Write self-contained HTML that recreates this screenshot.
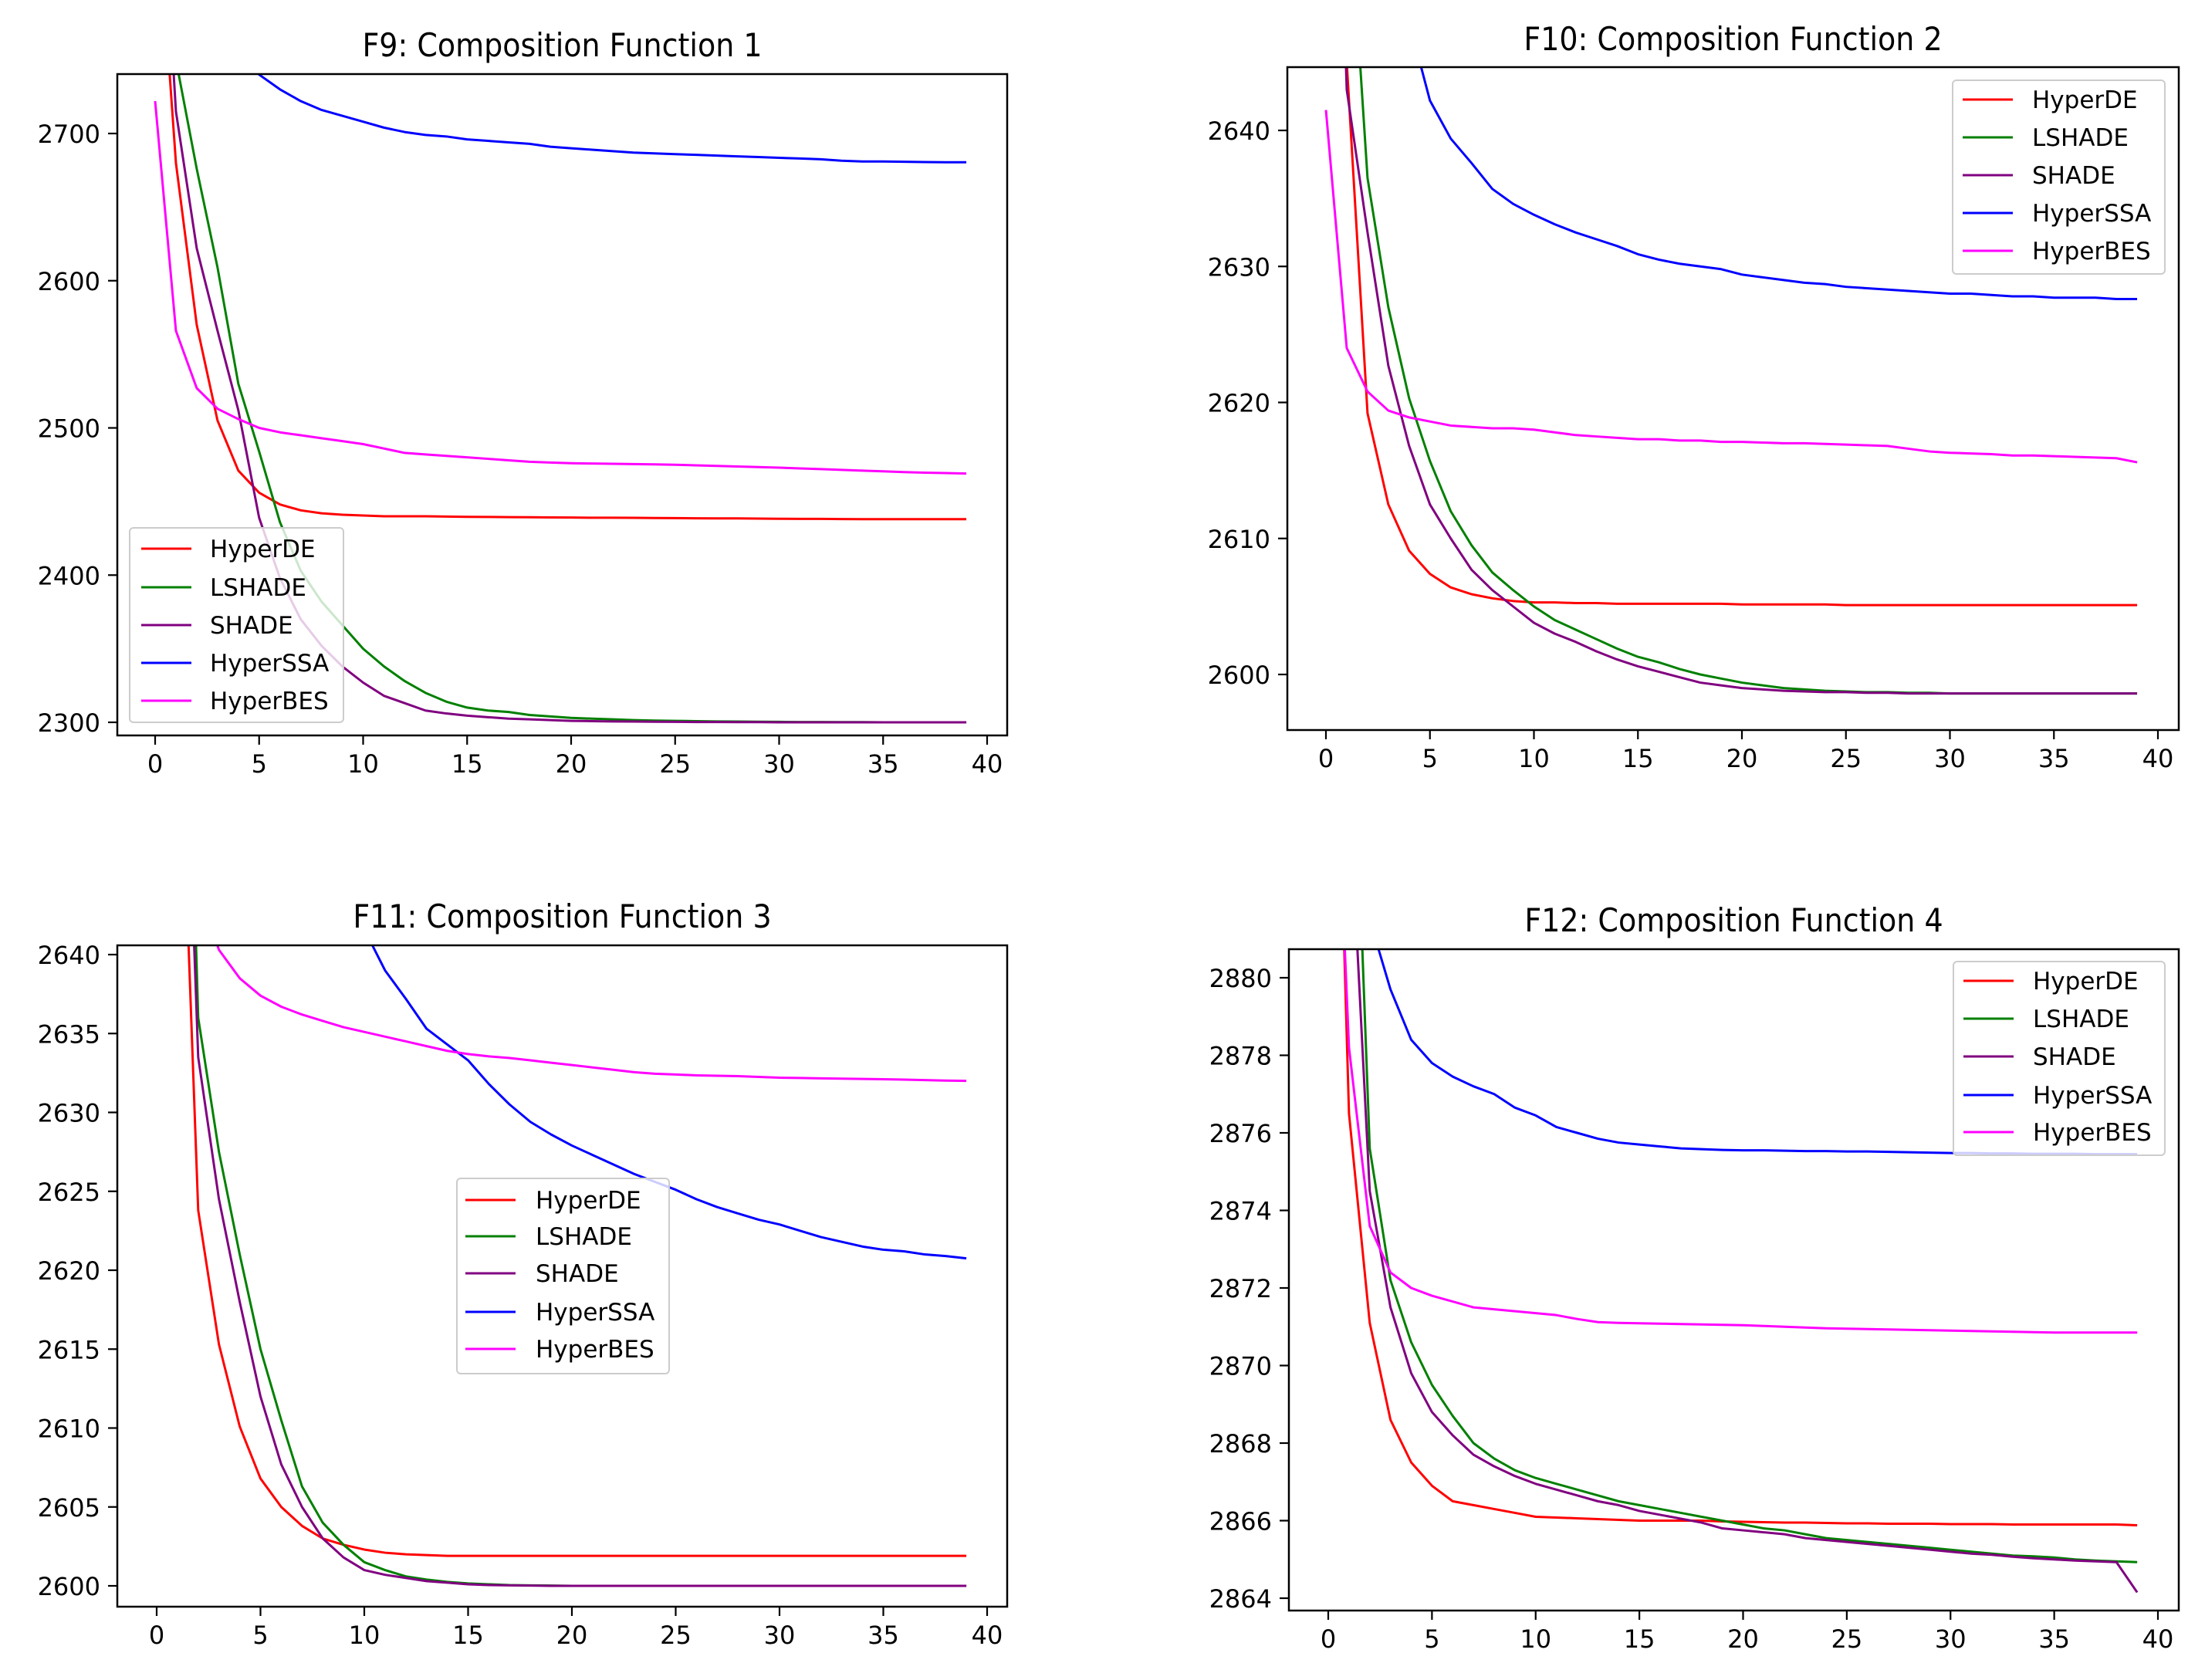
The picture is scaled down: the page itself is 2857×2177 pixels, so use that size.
<!DOCTYPE html>
<html><head><meta charset="utf-8"><style>
html,body{margin:0;padding:0;background:#fff;}
svg text{font-family:"DejaVu Sans","Liberation Sans",sans-serif;fill:#000;}
</style></head>
<body>
<svg id="fig" width="2857" height="2172" viewBox="0 0 2857 2172" xmlns="http://www.w3.org/2000/svg"></svg>
<script>
// ---------- data ----------
const iterations = Array.from({length:40},(_,i)=>i);
const seriesNames = ["HyperDE","LSHADE","SHADE","HyperSSA","HyperBES"];
const seriesColors = ["#ff0000","#008000","#800080","#0000ff","#ff00ff"];
const xTicks = [0,5,10,15,20,25,30,35,40];

// F9
const f9Titles = "F9: Composition Function 1";
const f9YTicks = [2300,2400,2500,2600,2700];
const f9HyperDE = [2880,2680,2570,2505,2471,2456,2448,2444,2442,2441,2440.5,2440,2440,2440,2439.8,2439.6,2439.5,2439.4,2439.3,2439.2,2439.1,2439,2439,2438.9,2438.8,2438.7,2438.6,2438.5,2438.5,2438.4,2438.3,2438.2,2438.2,2438.1,2438,2438,2438,2438,2438,2438];
const f9LSHADE = [3000,2750,2676,2609,2530,2484,2436,2403,2382,2366,2350,2338,2328,2320,2314,2310,2308,2307,2305,2304,2303,2302.5,2302,2301.5,2301.2,2301,2300.8,2300.6,2300.5,2300.4,2300.3,2300.2,2300.2,2300.1,2300.1,2300,2300,2300,2300,2300];
const f9SHADE = [2950,2715,2622,2566,2512,2439,2398,2370,2352,2338,2327,2318,2313,2308,2306,2304.5,2303.5,2302.5,2302,2301.5,2301,2300.8,2300.6,2300.5,2300.4,2300.3,2300.2,2300.2,2300.1,2300.1,2300,2300,2300,2300,2300,2300,2300,2300,2300,2300];
const f9HyperSSA = [2870,2830,2800,2775,2755,2740,2730,2722,2716,2712,2708,2704,2701,2699,2698,2696,2695,2694,2693,2691,2690,2689,2688,2687,2686.5,2686,2685.5,2685,2684.5,2684,2683.5,2683,2682.5,2681.5,2681,2681,2680.8,2680.6,2680.5,2680.5];
const f9HyperBES = [2722,2566,2527,2513,2506,2500,2497,2495,2493,2491,2489,2486,2483,2482,2481,2480,2479,2478,2477,2476.5,2476,2475.8,2475.6,2475.4,2475.2,2475,2474.6,2474.2,2473.8,2473.4,2473,2472.5,2472,2471.5,2471,2470.5,2470,2469.6,2469.3,2469];

// F10
const f10Titles = "F10: Composition Function 2";
const f10YTicks = [2600,2610,2620,2630,2640];
const f10HyperDE = [2680,2645,2619.2,2612.5,2609.1,2607.4,2606.4,2605.9,2605.6,2605.4,2605.3,2605.3,2605.25,2605.25,2605.2,2605.2,2605.2,2605.2,2605.2,2605.2,2605.15,2605.15,2605.15,2605.15,2605.15,2605.1,2605.1,2605.1,2605.1,2605.1,2605.1,2605.1,2605.1,2605.1,2605.1,2605.1,2605.1,2605.1,2605.1,2605.1];
const f10LSHADE = [2700,2660,2636.5,2627,2620.3,2615.7,2612,2609.5,2607.5,2606.2,2605,2604,2603.3,2602.6,2601.9,2601.3,2600.9,2600.4,2600,2599.7,2599.4,2599.2,2599,2598.9,2598.8,2598.75,2598.7,2598.7,2598.65,2598.65,2598.6,2598.6,2598.6,2598.6,2598.6,2598.6,2598.6,2598.6,2598.6,2598.6];
const f10SHADE = [2690,2643,2632.5,2622.7,2616.8,2612.5,2610,2607.7,2606.2,2605,2603.8,2603,2602.4,2601.7,2601.1,2600.6,2600.2,2599.8,2599.4,2599.2,2599,2598.9,2598.8,2598.75,2598.7,2598.7,2598.65,2598.65,2598.6,2598.6,2598.6,2598.6,2598.6,2598.6,2598.6,2598.6,2598.6,2598.6,2598.6,2598.6];
const f10HyperSSA = [2680,2670,2660,2654,2648,2642.2,2639.4,2637.6,2635.7,2634.6,2633.8,2633.1,2632.5,2632,2631.5,2630.9,2630.5,2630.2,2630,2629.8,2629.4,2629.2,2629,2628.8,2628.7,2628.5,2628.4,2628.3,2628.2,2628.1,2628,2628,2627.9,2627.8,2627.8,2627.7,2627.7,2627.7,2627.6,2627.6];
const f10HyperBES = [2641.5,2624,2620.8,2619.4,2618.9,2618.6,2618.3,2618.2,2618.1,2618.1,2618,2617.8,2617.6,2617.5,2617.4,2617.3,2617.3,2617.2,2617.2,2617.1,2617.1,2617.05,2617,2617,2616.95,2616.9,2616.85,2616.8,2616.6,2616.4,2616.3,2616.25,2616.2,2616.1,2616.1,2616.05,2616,2615.95,2615.9,2615.6];

// F11
const f11Titles = "F11: Composition Function 3";
const f11YTicks = [2600,2605,2610,2615,2620,2625,2630,2635,2640];
const f11HyperDE = [2720,2660,2623.8,2615.3,2610.1,2606.8,2605,2603.8,2603,2602.6,2602.3,2602.1,2602,2601.95,2601.9,2601.9,2601.9,2601.9,2601.9,2601.9,2601.9,2601.9,2601.9,2601.9,2601.9,2601.9,2601.9,2601.9,2601.9,2601.9,2601.9,2601.9,2601.9,2601.9,2601.9,2601.9,2601.9,2601.9,2601.9,2601.9];
const f11LSHADE = [2750,2680,2636,2627.5,2621,2615,2610.5,2606.3,2604,2602.6,2601.5,2601,2600.6,2600.4,2600.25,2600.15,2600.1,2600.05,2600.03,2600.02,2600,2600,2600,2600,2600,2600,2600,2600,2600,2600,2600,2600,2600,2600,2600,2600,2600,2600,2600,2600];
const f11SHADE = [2740,2670,2633.5,2624.5,2618,2612,2607.7,2605,2603,2601.8,2601,2600.7,2600.5,2600.3,2600.2,2600.1,2600.05,2600.03,2600.02,2600,2600,2600,2600,2600,2600,2600,2600,2600,2600,2600,2600,2600,2600,2600,2600,2600,2600,2600,2600,2600];
const f11HyperSSA = [2700,2690,2680,2672,2665,2658,2653,2649,2646,2643.5,2641.6,2639,2637.2,2635.3,2634.3,2633.3,2631.8,2630.5,2629.4,2628.6,2627.9,2627.3,2626.7,2626.1,2625.6,2625.1,2624.5,2624,2623.6,2623.2,2622.9,2622.5,2622.1,2621.8,2621.5,2621.3,2621.2,2621,2620.9,2620.75];
const f11HyperBES = [2660,2650,2644,2640.3,2638.5,2637.4,2636.7,2636.2,2635.8,2635.4,2635.1,2634.8,2634.5,2634.2,2633.9,2633.7,2633.55,2633.45,2633.3,2633.15,2633,2632.85,2632.7,2632.55,2632.45,2632.4,2632.35,2632.32,2632.3,2632.25,2632.2,2632.18,2632.16,2632.14,2632.12,2632.1,2632.08,2632.05,2632.02,2632];

// F12
const f12Titles = "F12: Composition Function 4";
const f12YTicks = [2864,2866,2868,2870,2872,2874,2876,2878,2880];
const f12HyperDE = [2895,2876.5,2871.1,2868.6,2867.5,2866.9,2866.5,2866.4,2866.3,2866.2,2866.1,2866.08,2866.06,2866.04,2866.02,2866,2866,2866,2866,2865.98,2865.97,2865.96,2865.95,2865.95,2865.94,2865.93,2865.93,2865.92,2865.92,2865.92,2865.91,2865.91,2865.91,2865.9,2865.9,2865.9,2865.9,2865.9,2865.9,2865.88];
const f12LSHADE = [2900,2890,2875.6,2872.2,2870.6,2869.5,2868.7,2868,2867.6,2867.3,2867.1,2866.95,2866.8,2866.65,2866.5,2866.4,2866.3,2866.2,2866.1,2866,2865.9,2865.8,2865.75,2865.65,2865.55,2865.5,2865.45,2865.4,2865.35,2865.3,2865.25,2865.2,2865.15,2865.1,2865.08,2865.05,2865,2864.97,2864.95,2864.93];
const f12SHADE = [2900,2885,2874.5,2871.5,2869.8,2868.8,2868.2,2867.7,2867.4,2867.15,2866.95,2866.8,2866.65,2866.5,2866.4,2866.25,2866.15,2866.05,2865.95,2865.8,2865.75,2865.7,2865.65,2865.55,2865.5,2865.45,2865.4,2865.35,2865.3,2865.25,2865.2,2865.15,2865.12,2865.07,2865.03,2865,2864.97,2864.95,2864.93,2864.15];
const f12HyperSSA = [2890,2886,2881.5,2879.7,2878.4,2877.8,2877.45,2877.2,2877,2876.65,2876.45,2876.15,2876,2875.85,2875.75,2875.7,2875.65,2875.6,2875.58,2875.56,2875.55,2875.55,2875.54,2875.53,2875.53,2875.52,2875.52,2875.51,2875.5,2875.49,2875.48,2875.48,2875.47,2875.47,2875.46,2875.46,2875.46,2875.45,2875.45,2875.45];
const f12HyperBES = [2890.8,2878.2,2873.6,2872.4,2872,2871.8,2871.65,2871.5,2871.45,2871.4,2871.35,2871.3,2871.2,2871.12,2871.1,2871.09,2871.08,2871.07,2871.06,2871.05,2871.04,2871.02,2871,2870.98,2870.96,2870.95,2870.94,2870.93,2870.92,2870.91,2870.9,2870.89,2870.88,2870.87,2870.86,2870.85,2870.85,2870.85,2870.85,2870.85];

// ---------- layout ----------
const NS = "http://www.w3.org/2000/svg";
const svg = document.getElementById("fig");
function mk(tag, attrs, parent){
  const e = document.createElementNS(NS, tag);
  for (const k in attrs) e.setAttribute(k, attrs[k]);
  (parent||svg).appendChild(e);
  return e;
}
const panels = [
  {id:"f9", title:f9Titles, yTicks:f9YTicks, series:[f9HyperDE,f9LSHADE,f9SHADE,f9HyperSSA,f9HyperBES],
   box:[152,96,1305,953], xpx:[201,1279], ypx:[[2300,936],[2700,173]], titleY:73,
   leg:{x:168,y:684,w:277,h:252,ys:[711,761,810,859,908],lx:183,tx:272}},
  {id:"f10", title:f10Titles, yTicks:f10YTicks, series:[f10HyperDE,f10LSHADE,f10SHADE,f10HyperSSA,f10HyperBES],
   box:[1668,87,2823,946], xpx:[1718,2796], ypx:[[2600,874],[2640,169]], titleY:65,
   leg:{x:2530,y:104,w:275,h:251,ys:[129,178,227,276,325],lx:2543,tx:2633}},
  {id:"f11", title:f11Titles, yTicks:f11YTicks, series:[f11HyperDE,f11LSHADE,f11SHADE,f11HyperSSA,f11HyperBES],
   box:[152,1225,1305,2082], xpx:[203,1279], ypx:[[2600,2055],[2640,1237]], titleY:1202,
   leg:{x:592,y:1527,w:275,h:253,ys:[1555,1602,1650,1700,1748],lx:603,tx:694}},
  {id:"f12", title:f12Titles, yTicks:f12YTicks, series:[f12HyperDE,f12LSHADE,f12SHADE,f12HyperSSA,f12HyperBES],
   box:[1670,1230,2823,2087], xpx:[1721,2796], ypx:[[2864,2071],[2880,1267]], titleY:1207,
   leg:{x:2531,y:1246,w:274,h:251,ys:[1271,1320,1369,1419,1467],lx:2544,tx:2634}}
];

panels.forEach((p)=>{
  const g = mk("g",{});
  
  
  const [L,T,R,B] = p.box;
  const xs = v => p.xpx[0] + v*(p.xpx[1]-p.xpx[0])/40;
  const [[v0,p0],[v1,p1]] = p.ypx;
  const ys = v => p0 + (v - v0)*(p1-p0)/(v1-v0);

  const cp = mk("clipPath",{id:"clip-"+p.id}, g);
  mk("rect",{x:L,y:T,width:R-L,height:B-T}, cp);

  const t = mk("text",{x:(L+R)/2,y:p.titleY,"font-size":38,"text-anchor":"middle",transform:`translate(0,${p.titleY}) scale(1,1.1) translate(0,${-p.titleY})`}, g);
  t.textContent = p.title;
  
  

  p.series.forEach((vals,si)=>{
    const d = vals.map((v,i)=>(i?"L":"M")+xs(iterations[i]).toFixed(2)+","+ys(v).toFixed(2)).join(" ");
    const path = mk("path",{d:d,fill:"none",stroke:seriesColors[si],"stroke-width":3,"stroke-linejoin":"round","clip-path":`url(#clip-${p.id})`}, g);
    
    
  });

  const fr = mk("rect",{x:L,y:T,width:R-L,height:B-T,fill:"none",stroke:"#000","stroke-width":2.5}, g);
  
  

  xTicks.forEach(v=>{
    const x = xs(v);
    mk("line",{x1:x,y1:B,x2:x,y2:B+12,stroke:"#000","stroke-width":2.2}, g);
    const lt = mk("text",{x:x,y:B+48,"font-size":32,"text-anchor":"middle"}, g);
    lt.textContent = v;
    
    
  });
  p.yTicks.forEach(v=>{
    const y = ys(v);
    mk("line",{x1:L-12,y1:y,x2:L,y2:y,stroke:"#000","stroke-width":2.2}, g);
    const lt = mk("text",{x:L-22,y:y+12,"font-size":32,"text-anchor":"end"}, g);
    lt.textContent = v;
    
    
  });

  const lg = mk("g",{}, g);
  
  
  mk("rect",{x:p.leg.x,y:p.leg.y,width:p.leg.w,height:p.leg.h,rx:5,fill:"#fff","fill-opacity":0.8,stroke:"#cccccc","stroke-width":2}, lg);
  seriesNames.forEach((n,si)=>{
    const y = p.leg.ys[si];
    const e = mk("g",{}, lg);
    
    
    mk("line",{x1:p.leg.lx,y1:y,x2:p.leg.lx+65,y2:y,stroke:seriesColors[si],"stroke-width":3}, e);
    const lt = mk("text",{x:p.leg.tx,y:y+11,"font-size":31}, e);
    lt.textContent = n;
  });
});
</script>
</body></html>
